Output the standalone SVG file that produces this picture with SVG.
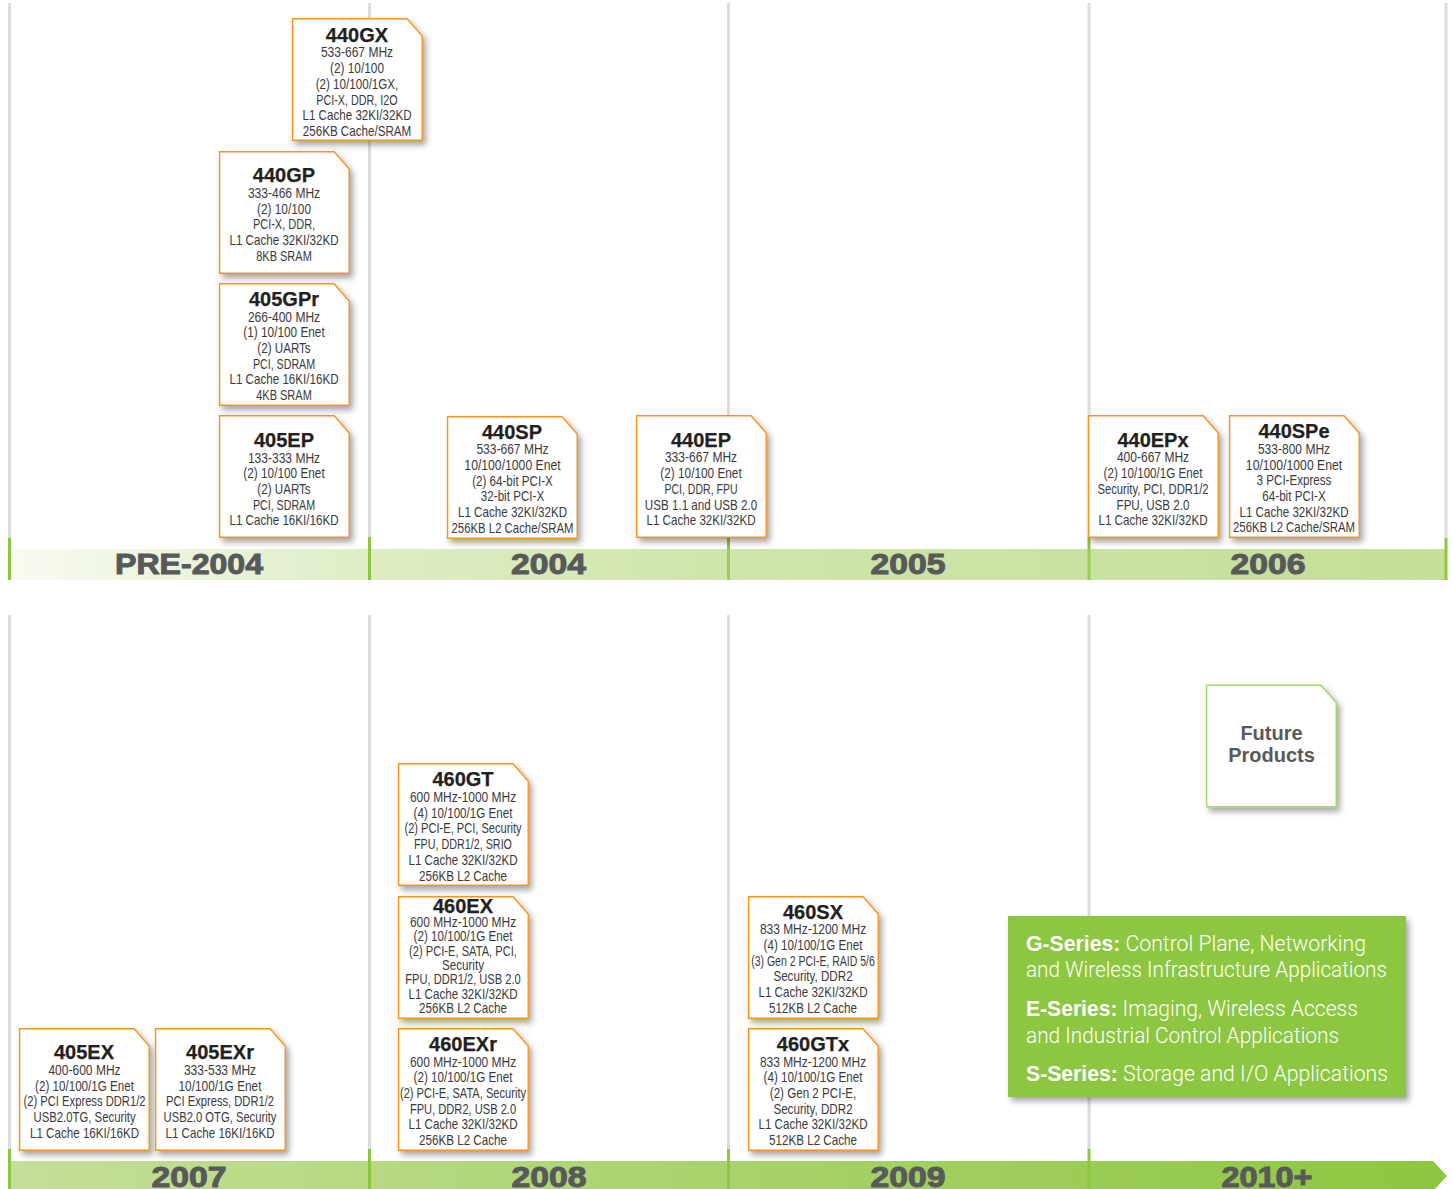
<svg xmlns="http://www.w3.org/2000/svg" width="1453" height="1189" viewBox="0 0 1453 1189">
<style>
.grid{fill:#dcdcdc}
.tick{fill:#8dc63f}
.tick2{fill:#9ccd55}
.card{fill:#fff;stroke:#f7941d;stroke-width:1.4;filter:url(#sh)}
.future{fill:#fff;stroke:#a6d46a;stroke-width:1.4;filter:url(#sh)}
.t{font-family:"Liberation Sans",Arial,sans-serif;font-weight:700;font-size:20px;fill:#231f20;text-anchor:middle;stroke:#231f20;stroke-width:.25}
.b{font-family:"Liberation Sans",Arial,sans-serif;font-size:14px;fill:#3a3a3c;text-anchor:middle}
.y{font-family:"Liberation Sans",Arial,sans-serif;font-weight:700;font-size:29px;fill:#58595b;text-anchor:middle;stroke:#58595b;stroke-width:1}
.f{font-family:"Liberation Sans",Arial,sans-serif;font-weight:700;font-size:20px;fill:#58595b;text-anchor:middle}
.l{font-family:Roboto,"Liberation Sans",sans-serif;font-weight:300;font-size:22px;fill:#fff}
.l tspan{font-family:"Liberation Sans",Arial,sans-serif;font-weight:700}
</style>
<defs>
<filter id="sh" x="-10%" y="-10%" width="125%" height="125%"><feDropShadow dx="3" dy="4" stdDeviation="3" flood-color="#000" flood-opacity=".36"/></filter>
<linearGradient id="g1" gradientUnits="userSpaceOnUse" x1="8" y1="0" x2="1447" y2="0"><stop offset="0" stop-color="#f8fbf1"/><stop offset=".25" stop-color="#deedc5"/><stop offset=".5" stop-color="#cfe5aa"/><stop offset="1" stop-color="#c4df98"/></linearGradient>
<linearGradient id="g2" gradientUnits="userSpaceOnUse" x1="8" y1="0" x2="1447" y2="0"><stop offset="0" stop-color="#c4df98"/><stop offset="1" stop-color="#8dc63f"/></linearGradient>
<path id="c" d="M.6 .7H115L130.200 18V122.300H.6Z"/>
</defs>
<rect width="1453" height="1189" fill="#fff"/>
<g id="connectors">
<rect class="grid" x="8" y="3" width="3" height="536"/><rect class="grid" x="368" y="3" width="3" height="536"/><rect class="grid" x="727" y="3" width="3" height="536"/><rect class="grid" x="1087.500" y="3" width="3" height="536"/><rect class="grid" x="1444.500" y="3" width="3" height="536"/>
<rect class="grid" x="8" y="615" width="3" height="535"/><rect class="grid" x="368" y="615" width="3" height="535"/><rect class="grid" x="727" y="615" width="3" height="535"/><rect class="grid" x="1087.500" y="615" width="3" height="535"/>
</g>
<g id="bars">
<rect x="8" y="549" width="1439" height="31" fill="url(#g1)"/>
<path d="M8 1161H1433L1447 1176L1433 1191H8Z" fill="url(#g2)"/>
<rect class="tick" x="8" y="538" width="3" height="42"/><rect class="tick" x="368" y="537" width="3" height="43"/><rect class="tick" x="727" y="538" width="3" height="11"/><rect class="tick2" x="727" y="549" width="3" height="31"/><rect class="tick" x="1087.500" y="538" width="3" height="11"/><rect class="tick2" x="1087.500" y="549" width="3" height="31"/><rect class="tick" x="1444.500" y="538" width="3" height="42"/>
<rect class="tick" x="8" y="1149" width="3" height="40"/><rect class="tick" x="368" y="1149" width="3" height="40"/><rect class="tick" x="727" y="1149" width="3" height="40"/><rect class="tick" x="1087.500" y="1149" width="3" height="40"/>
<text class="y" x="189" y="574" textLength="148" lengthAdjust="spacingAndGlyphs">PRE-2004</text>
<text class="y" x="548.500" y="574" textLength="75" lengthAdjust="spacingAndGlyphs">2004</text>
<text class="y" x="908" y="574" textLength="75" lengthAdjust="spacingAndGlyphs">2005</text>
<text class="y" x="1268" y="574" textLength="75" lengthAdjust="spacingAndGlyphs">2006</text>
<text class="y" x="189" y="1187" textLength="75" lengthAdjust="spacingAndGlyphs">2007</text>
<text class="y" x="549" y="1187" textLength="75" lengthAdjust="spacingAndGlyphs">2008</text>
<text class="y" x="908" y="1187" textLength="75" lengthAdjust="spacingAndGlyphs">2009</text>
<text class="y" x="1267" y="1187" textLength="91" lengthAdjust="spacingAndGlyphs">2010+</text>
</g>
<g id="n440GX"><use href="#c" x="292" y="18" class="card"/><text class="t" x="357" y="42">440GX</text><g transform="translate(357 0) scale(.83 1)"><text class="b" y="57" textLength="87" lengthAdjust="spacingAndGlyphs">533-667 MHz</text><text class="b" y="73" textLength="65" lengthAdjust="spacingAndGlyphs">(2) 10/100</text><text class="b" y="89">(2) 10/100/1GX,</text><text class="b" y="105" textLength="98" lengthAdjust="spacingAndGlyphs">PCI-X, DDR, I2O</text><text class="b" y="120">L1 Cache 32KI/32KD</text><text class="b" y="136">256KB Cache/SRAM</text></g></g>
<g id="n440GP"><use href="#c" x="219" y="151" class="card"/><text class="t" x="284" y="182">440GP</text><g transform="translate(284 0) scale(.83 1)"><text class="b" y="198" textLength="87" lengthAdjust="spacingAndGlyphs">333-466 MHz</text><text class="b" y="214" textLength="65" lengthAdjust="spacingAndGlyphs">(2) 10/100</text><text class="b" y="229" textLength="75" lengthAdjust="spacingAndGlyphs">PCI-X, DDR,</text><text class="b" y="245">L1 Cache 32KI/32KD</text><text class="b" y="261" textLength="67" lengthAdjust="spacingAndGlyphs">8KB SRAM</text></g></g>
<g id="n405GPr"><use href="#c" x="219" y="283" class="card"/><text class="t" x="284" y="306">405GPr</text><g transform="translate(284 0) scale(.83 1)"><text class="b" y="322" textLength="87" lengthAdjust="spacingAndGlyphs">266-400 MHz</text><text class="b" y="337" textLength="98" lengthAdjust="spacingAndGlyphs">(1) 10/100 Enet</text><text class="b" y="353">(2) UARTs</text><text class="b" y="369" textLength="75" lengthAdjust="spacingAndGlyphs">PCI, SDRAM</text><text class="b" y="384">L1 Cache 16KI/16KD</text><text class="b" y="400" textLength="67" lengthAdjust="spacingAndGlyphs">4KB SRAM</text></g></g>
<g id="n405EP"><use href="#c" x="219" y="415" class="card"/><text class="t" x="284" y="447">405EP</text><g transform="translate(284 0) scale(.83 1)"><text class="b" y="463" textLength="87" lengthAdjust="spacingAndGlyphs">133-333 MHz</text><text class="b" y="478" textLength="98" lengthAdjust="spacingAndGlyphs">(2) 10/100 Enet</text><text class="b" y="494">(2) UARTs</text><text class="b" y="510" textLength="75" lengthAdjust="spacingAndGlyphs">PCI, SDRAM</text><text class="b" y="525">L1 Cache 16KI/16KD</text></g></g>
<g id="n440SP"><use href="#c" x="447" y="416" class="card"/><text class="t" x="512" y="439">440SP</text><g transform="translate(512.500 0) scale(.83 1)"><text class="b" y="454" textLength="87" lengthAdjust="spacingAndGlyphs">533-667 MHz</text><text class="b" y="470" textLength="116" lengthAdjust="spacingAndGlyphs">10/100/1000 Enet</text><text class="b" y="486">(2) 64-bit PCI-X</text><text class="b" y="501">32-bit PCI-X</text><text class="b" y="517">L1 Cache 32KI/32KD</text><text class="b" y="533" textLength="147" lengthAdjust="spacingAndGlyphs">256KB L2 Cache/SRAM</text></g></g>
<g id="n440EP"><use href="#c" x="636" y="415" class="card"/><text class="t" x="701" y="447">440EP</text><g transform="translate(701 0) scale(.83 1)"><text class="b" y="462" textLength="87" lengthAdjust="spacingAndGlyphs">333-667 MHz</text><text class="b" y="478" textLength="98" lengthAdjust="spacingAndGlyphs">(2) 10/100 Enet</text><text class="b" y="494" textLength="88" lengthAdjust="spacingAndGlyphs">PCI, DDR, FPU</text><text class="b" y="510">USB 1.1 and USB 2.0</text><text class="b" y="525">L1 Cache 32KI/32KD</text></g></g>
<g id="n440EPx"><use href="#c" x="1088" y="415" class="card"/><text class="t" x="1153" y="447">440EPx</text><g transform="translate(1153 0) scale(.83 1)"><text class="b" y="462" textLength="87" lengthAdjust="spacingAndGlyphs">400-667 MHz</text><text class="b" y="478" textLength="119" lengthAdjust="spacingAndGlyphs">(2) 10/100/1G Enet</text><text class="b" y="494" textLength="134" lengthAdjust="spacingAndGlyphs">Security, PCI, DDR1/2</text><text class="b" y="510">FPU, USB 2.0</text><text class="b" y="525">L1 Cache 32KI/32KD</text></g></g>
<g id="n440SPe"><use href="#c" x="1229" y="415" class="card"/><text class="t" x="1294" y="438">440SPe</text><g transform="translate(1294 0) scale(.83 1)"><text class="b" y="454" textLength="87" lengthAdjust="spacingAndGlyphs">533-800 MHz</text><text class="b" y="470" textLength="116" lengthAdjust="spacingAndGlyphs">10/100/1000 Enet</text><text class="b" y="485">3 PCI-Express</text><text class="b" y="501">64-bit PCI-X</text><text class="b" y="517">L1 Cache 32KI/32KD</text><text class="b" y="532" textLength="147" lengthAdjust="spacingAndGlyphs">256KB L2 Cache/SRAM</text></g></g>
<g id="n405EX"><use href="#c" x="19" y="1028" class="card"/><text class="t" x="84" y="1059">405EX</text><g transform="translate(84.500 0) scale(.83 1)"><text class="b" y="1075" textLength="87" lengthAdjust="spacingAndGlyphs">400-600 MHz</text><text class="b" y="1091" textLength="119" lengthAdjust="spacingAndGlyphs">(2) 10/100/1G Enet</text><text class="b" y="1106" textLength="147" lengthAdjust="spacingAndGlyphs">(2) PCI Express DDR1/2</text><text class="b" y="1122" textLength="123" lengthAdjust="spacingAndGlyphs">USB2.0TG, Security</text><text class="b" y="1138">L1 Cache 16KI/16KD</text></g></g>
<g id="n405EXr"><use href="#c" x="155" y="1028" class="card"/><text class="t" x="220" y="1059">405EXr</text><g transform="translate(220 0) scale(.83 1)"><text class="b" y="1075" textLength="87" lengthAdjust="spacingAndGlyphs">333-533 MHz</text><text class="b" y="1091" textLength="100" lengthAdjust="spacingAndGlyphs">10/100/1G Enet</text><text class="b" y="1106" textLength="130" lengthAdjust="spacingAndGlyphs">PCI Express, DDR1/2</text><text class="b" y="1122" textLength="136" lengthAdjust="spacingAndGlyphs">USB2.0 OTG, Security</text><text class="b" y="1138">L1 Cache 16KI/16KD</text></g></g>
<g id="n460GT"><use href="#c" x="398" y="763" class="card"/><text class="t" x="463" y="786">460GT</text><g transform="translate(463 0) scale(.83 1)"><text class="b" y="802" textLength="128" lengthAdjust="spacingAndGlyphs">600 MHz-1000 MHz</text><text class="b" y="818" textLength="119" lengthAdjust="spacingAndGlyphs">(4) 10/100/1G Enet</text><text class="b" y="833" textLength="141" lengthAdjust="spacingAndGlyphs">(2) PCI-E, PCI, Security</text><text class="b" y="849" textLength="118" lengthAdjust="spacingAndGlyphs">FPU, DDR1/2, SRIO</text><text class="b" y="865">L1 Cache 32KI/32KD</text><text class="b" y="881">256KB L2 Cache</text></g></g>
<g id="n460EX"><use href="#c" x="398" y="896" class="card"/><text class="t" x="463" y="913">460EX</text><g transform="translate(463 0) scale(.83 1)"><text class="b" y="927" textLength="128" lengthAdjust="spacingAndGlyphs">600 MHz-1000 MHz</text><text class="b" y="941" textLength="119" lengthAdjust="spacingAndGlyphs">(2) 10/100/1G Enet</text><text class="b" y="956" textLength="130" lengthAdjust="spacingAndGlyphs">(2) PCI-E, SATA, PCI,</text><text class="b" y="970">Security</text><text class="b" y="984" textLength="139" lengthAdjust="spacingAndGlyphs">FPU, DDR1/2, USB 2.0</text><text class="b" y="999">L1 Cache 32KI/32KD</text><text class="b" y="1013">256KB L2 Cache</text></g></g>
<g id="n460EXr"><use href="#c" x="398" y="1028" class="card"/><text class="t" x="463" y="1051">460EXr</text><g transform="translate(463 0) scale(.83 1)"><text class="b" y="1067" textLength="128" lengthAdjust="spacingAndGlyphs">600 MHz-1000 MHz</text><text class="b" y="1082" textLength="119" lengthAdjust="spacingAndGlyphs">(2) 10/100/1G Enet</text><text class="b" y="1098" textLength="152" lengthAdjust="spacingAndGlyphs">(2) PCI-E, SATA, Security</text><text class="b" y="1114" textLength="128" lengthAdjust="spacingAndGlyphs">FPU, DDR2, USB 2.0</text><text class="b" y="1129">L1 Cache 32KI/32KD</text><text class="b" y="1145">256KB L2 Cache</text></g></g>
<g id="n460SX"><use href="#c" x="748" y="896" class="card"/><text class="t" x="813" y="919">460SX</text><g transform="translate(813 0) scale(.83 1)"><text class="b" y="934" textLength="128" lengthAdjust="spacingAndGlyphs">833 MHz-1200 MHz</text><text class="b" y="950" textLength="119" lengthAdjust="spacingAndGlyphs">(4) 10/100/1G Enet</text><text class="b" y="966" textLength="149" lengthAdjust="spacingAndGlyphs">(3) Gen 2 PCI-E, RAID 5/6</text><text class="b" y="981">Security, DDR2</text><text class="b" y="997">L1 Cache 32KI/32KD</text><text class="b" y="1013">512KB L2 Cache</text></g></g>
<g id="n460GTx"><use href="#c" x="748" y="1028" class="card"/><text class="t" x="813" y="1051">460GTx</text><g transform="translate(813 0) scale(.83 1)"><text class="b" y="1067" textLength="128" lengthAdjust="spacingAndGlyphs">833 MHz-1200 MHz</text><text class="b" y="1082" textLength="119" lengthAdjust="spacingAndGlyphs">(4) 10/100/1G Enet</text><text class="b" y="1098">(2) Gen 2 PCI-E,</text><text class="b" y="1114">Security, DDR2</text><text class="b" y="1129">L1 Cache 32KI/32KD</text><text class="b" y="1145">512KB L2 Cache</text></g></g>
<g id="future"><use href="#c" x="1206" y="684.500" class="future"/><text class="f" x="1271.500" y="740">Future</text><text class="f" x="1271.500" y="762">Products</text></g>
<g id="legend">
<rect x="1008" y="916" width="398" height="181" fill="#8dc63f" filter="url(#sh)"/>
<text class="l" x="1026" y="951" textLength="340" lengthAdjust="spacingAndGlyphs"><tspan>G-Series:</tspan> Control Plane, Networking</text>
<text class="l" x="1026" y="977" textLength="361" lengthAdjust="spacingAndGlyphs">and Wireless Infrastructure Applications</text>
<text class="l" x="1026" y="1016" textLength="332" lengthAdjust="spacingAndGlyphs"><tspan>E-Series:</tspan> Imaging, Wireless Access</text>
<text class="l" x="1026" y="1043" textLength="313" lengthAdjust="spacingAndGlyphs">and Industrial Control Applications</text>
<text class="l" x="1026" y="1081" textLength="362" lengthAdjust="spacingAndGlyphs"><tspan>S-Series:</tspan> Storage and I/O Applications</text>
</g>
</svg>
